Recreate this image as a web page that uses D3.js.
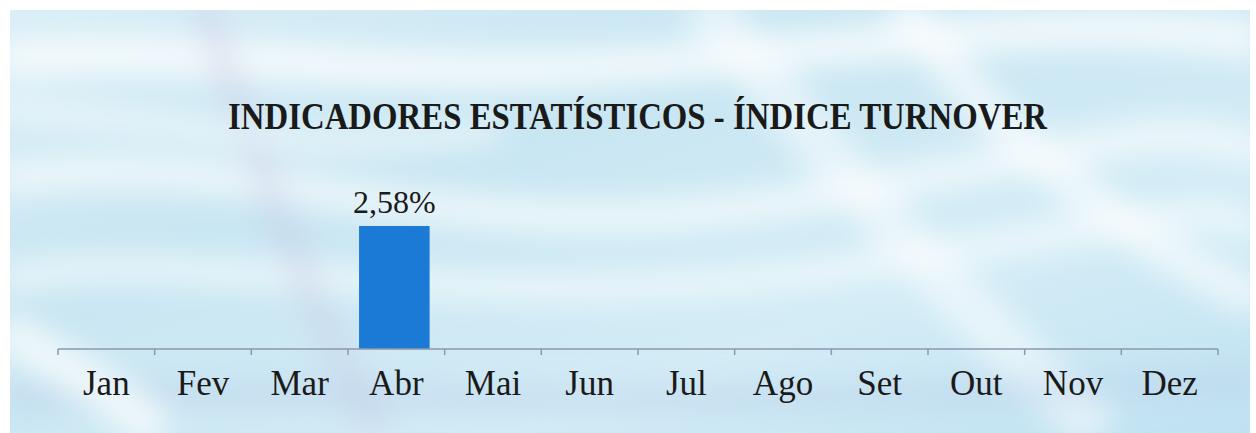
<!DOCTYPE html>
<html><head><meta charset="utf-8">
<script src="https://cdn.jsdelivr.net/npm/d3@7/dist/d3.min.js"></script>
<style>html,body{margin:0;padding:0;background:#fff;}svg{display:block;}</style>
</head><body>
<script>
const months = ["Jan","Fev","Mar","Abr","Mai","Jun","Jul","Ago","Set","Out","Nov","Dez"];
const values = [null,null,null,2.58,null,null,null,null,null,null,null,null];
const valueLabels = [null,null,null,"2,58%",null,null,null,null,null,null,null,null];
const title = "INDICADORES ESTATÍSTICOS - ÍNDICE TURNOVER";

const W = 1256, H = 433;
const serif = "'Liberation Serif','Times New Roman',serif";
const svg = d3.select("body").append("svg").attr("width", W).attr("height", H);
const defs = svg.append("defs");

// background
const bg = defs.append("linearGradient").attr("id","bg").attr("x1","0").attr("y1","0").attr("x2","1").attr("y2","1");
bg.append("stop").attr("offset","0").attr("stop-color","#d9eef7");
bg.append("stop").attr("offset","0.35").attr("stop-color","#c8e6f2");
bg.append("stop").attr("offset","0.7").attr("stop-color","#d3ecf6");
bg.append("stop").attr("offset","1").attr("stop-color","#bfe2f1");
const blur = defs.append("filter").attr("id","blur").attr("x","-20%").attr("y","-20%").attr("width","140%").attr("height","140%");
blur.append("feGaussianBlur").attr("stdDeviation", 14);
defs.append("clipPath").attr("id","clip").append("rect").attr("x",10).attr("y",10).attr("width",1240).attr("height",423);

svg.append("rect").attr("x",10).attr("y",10).attr("width",1240).attr("height",423).attr("fill","url(#bg)");
const streaks = svg.append("g").attr("clip-path","url(#clip)").attr("filter","url(#blur)");
const streakPaths = [
  ["M0,60 C200,40 400,90 700,60 S1100,20 1260,40", 40, "#ffffff", 0.7],
  ["M0,180 C250,140 450,260 800,200 S1150,120 1260,150", 35, "#ffffff", 0.6],
  ["M0,280 C200,240 500,330 900,260 S1200,220 1260,230", 30, "#ffffff", 0.55],
  ["M700,0 C800,120 900,250 1100,433", 50, "#ffffff", 0.5],
  ["M0,400 C300,380 600,420 1260,380", 30, "#b8cbe8", 0.35],
  ["M200,0 C260,150 300,300 380,433", 30, "#c8c0e0", 0.3],
  ["M900,0 C1000,150 1150,250 1260,300", 40, "#ffffff", 0.6],
  ["M0,110 C200,120 300,160 500,130", 25, "#ffffff", 0.5],
  ["M0,330 C60,360 120,400 160,433", 40, "#ffffff", 0.7]
];
streakPaths.forEach(([d,w,c,o]) => streaks.append("path").attr("d",d).attr("fill","none").attr("stroke",c).attr("stroke-width",w).attr("stroke-opacity",o));

// title
svg.append("text").attr("x", 228).attr("y", 129)
  .attr("font-family", serif).attr("font-weight","bold")
  .attr("font-size", 37).attr("fill","#1a1a1a")
  .attr("textLength", 819).attr("lengthAdjust","spacingAndGlyphs").text(title);

// scales
const x = d3.scaleBand().domain(months).range([58, 1218]).paddingInner(0.27).paddingOuter(0.135);
const y = d3.scaleLinear().domain([0, 3]).range([349, 206]);

// bars
const data = months.map((m,i)=>({m, v: values[i], l: valueLabels[i]})).filter(d=>d.v!=null);
svg.append("g").selectAll("rect").data(data).join("rect")
  .attr("x", d=>x(d.m)-2).attr("y", d=>y(d.v)).attr("width", x.bandwidth()).attr("height", d=>y(0)-y(d.v))
  .attr("fill","#1b7ad6");
svg.append("g").selectAll("text").data(data).join("text")
  .attr("x", d=>x(d.m)+x.bandwidth()/2-2).attr("y", d=>y(d.v)-13).attr("text-anchor","middle")
  .attr("font-family", serif).attr("font-size",32).attr("fill","#1a1a1a")
  .text(d=>d.l);

// axis
const axisG = svg.append("g");
axisG.append("line").attr("x1",58).attr("x2",1218).attr("y1",y(0)).attr("y2",y(0)).attr("stroke","#8d98ad").attr("stroke-width",1.5);
const tickPos = d3.range(months.length+1).map(i => 58 + i*(1218-58)/months.length);
axisG.selectAll("line.t").data(tickPos).join("line").attr("class","t")
  .attr("x1",d=>d).attr("x2",d=>d).attr("y1",y(0)).attr("y2",y(0)+6).attr("stroke","#8d98ad").attr("stroke-width",1.5);
axisG.selectAll("text").data(months).join("text")
  .attr("x", d=>x(d)+x.bandwidth()/2).attr("y", 395).attr("text-anchor","middle")
  .attr("font-family", serif).attr("font-size",35).attr("fill","#1a1a1a")
  .text(d=>d);
</script>
</body></html>
